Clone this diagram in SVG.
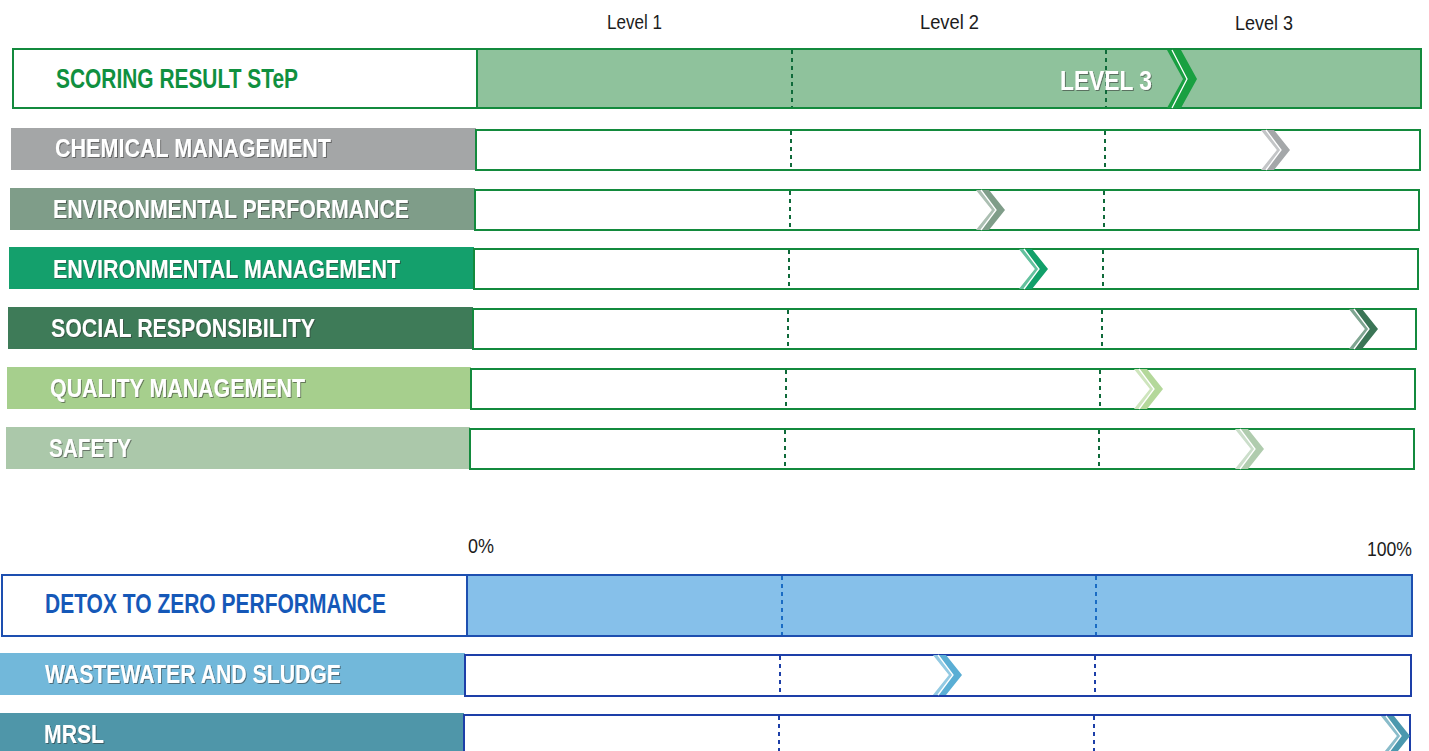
<svg xmlns="http://www.w3.org/2000/svg" xmlns:xlink="http://www.w3.org/1999/xlink" width="1429" height="751" viewBox="0 0 1429 751">
<style>
.t{font-family:"Liberation Sans Narrow","Liberation Sans",Arial,sans-serif;font-weight:bold}
.h{font-family:"Liberation Sans Narrow","Liberation Sans",Arial,sans-serif;font-size:20px;fill:#1c1c1c}
.w{fill:#fff;font-size:25px;filter:url(#sh)}
.gbox{fill:#fff;stroke:#138a3d;stroke-width:2}
.bbox{fill:#fff;stroke:#1d3fa8;stroke-width:2}
.gd{stroke:#0f6a3a;stroke-width:2;stroke-dasharray:4 4;fill:none}
.bd{stroke:#1d3fa8;stroke-width:2;stroke-dasharray:4 4;fill:none}
.bd2{stroke:#1a6cc4;stroke-width:2;stroke-dasharray:4 4;fill:none}
</style>
<defs>
<filter id="sh" x="-5%" y="-30%" width="110%" height="160%">
<feDropShadow dx="1" dy="1" stdDeviation="0.6" flood-color="#333" flood-opacity="0.55"/>
</filter>
<g id="chev">
<path d="M-29,-20 L-16,-20 L0,0 L-16,20 L-29,20 L-13,0 Z"/>
<path d="M-29,-20 L-24,-20 L-9,0 L-24,20 L-29,20 L-13,0 Z" fill="#fff" fill-opacity="0.35"/>
<path d="M-24,-20 L-9,0 L-24,20" fill="none" stroke="#fff" stroke-width="1.3"/>
</g>
</defs>

<g id="headers">
<text class="h" x="607" y="29" textLength="55" lengthAdjust="spacingAndGlyphs">Level 1</text>
<text class="h" x="920" y="29" textLength="59" lengthAdjust="spacingAndGlyphs">Level 2</text>
<text class="h" x="1235" y="30" textLength="58" lengthAdjust="spacingAndGlyphs">Level 3</text>
<text class="h" x="468" y="553" textLength="26" lengthAdjust="spacingAndGlyphs">0%</text>
<text class="h" x="1367" y="556" textLength="45" lengthAdjust="spacingAndGlyphs">100%</text>
</g>

<g id="scoring">
<rect x="477" y="49" width="944" height="59" fill="#8fc29c"/>
<rect x="13" y="49" width="1408" height="59" fill="none" stroke="#138a3d" stroke-width="2"/>
<line x1="477" y1="49" x2="477" y2="108" stroke="#138a3d" stroke-width="2"/>
<line class="gd" x1="792" y1="50" x2="792" y2="107"/>
<line class="gd" x1="1106" y1="50" x2="1106" y2="107"/>
<text class="t" x="56" y="88" font-size="27" fill="#10903f" textLength="242" lengthAdjust="spacingAndGlyphs">SCORING RESULT STeP</text>
<text class="t w" x="1060" y="90" textLength="92" lengthAdjust="spacingAndGlyphs" style="font-size:27px">LEVEL 3</text>
<g transform="translate(1197,79)">
<path d="M-30,-29 L-16,-29 L0,0 L-16,29 L-30,29 L-14,0 Z" fill="#19a041"/>
<path d="M-25,-29 L-10,0 L-25,29" fill="none" stroke="#fff" stroke-width="1.3"/>
</g>
</g>

<g id="chemical">
<rect x="11" y="128" width="465" height="42" fill="#a4a6a7"/>
<rect class="gbox" x="476" y="130" width="944" height="40"/>
<line class="gd" x1="791" y1="131" x2="791" y2="169"/>
<line class="gd" x1="1105" y1="131" x2="1105" y2="169"/>
<text class="t w" x="55" y="157" textLength="276" lengthAdjust="spacingAndGlyphs">CHEMICAL MANAGEMENT</text>
<use xlink:href="#chev" href="#chev" transform="translate(1290,150)" fill="#a4a7a9"/>
</g>

<g id="envperf">
<rect x="10" y="188" width="465" height="42" fill="#7f9d89"/>
<rect class="gbox" x="475" y="190" width="944" height="40"/>
<line class="gd" x1="790" y1="191" x2="790" y2="229"/>
<line class="gd" x1="1104" y1="191" x2="1104" y2="229"/>
<text class="t w" x="53" y="218" textLength="356" lengthAdjust="spacingAndGlyphs">ENVIRONMENTAL PERFORMANCE</text>
<use xlink:href="#chev" href="#chev" transform="translate(1005,210)" fill="#7f9d89"/>
</g>

<g id="envmgmt">
<rect x="9" y="247" width="465" height="42" fill="#14a06c"/>
<rect class="gbox" x="474" y="249" width="944" height="40"/>
<line class="gd" x1="789" y1="250" x2="789" y2="288"/>
<line class="gd" x1="1103" y1="250" x2="1103" y2="288"/>
<text class="t w" x="53" y="278" textLength="347" lengthAdjust="spacingAndGlyphs">ENVIRONMENTAL MANAGEMENT</text>
<use xlink:href="#chev" href="#chev" transform="translate(1048,269)" fill="#12a06a"/>
</g>

<g id="social">
<rect x="8" y="307" width="465" height="42" fill="#3e7b58"/>
<rect class="gbox" x="473" y="309" width="943" height="40"/>
<line class="gd" x1="788" y1="310" x2="788" y2="348"/>
<line class="gd" x1="1102" y1="310" x2="1102" y2="348"/>
<text class="t w" x="51" y="337" textLength="264" lengthAdjust="spacingAndGlyphs">SOCIAL RESPONSIBILITY</text>
<use xlink:href="#chev" href="#chev" transform="translate(1378,329)" fill="#3b7556"/>
</g>

<g id="quality">
<rect x="7" y="367" width="464" height="42" fill="#a6cf8d"/>
<rect class="gbox" x="471" y="369" width="944" height="40"/>
<line class="gd" x1="786" y1="370" x2="786" y2="408"/>
<line class="gd" x1="1100" y1="370" x2="1100" y2="408"/>
<text class="t w" x="50" y="397" textLength="255" lengthAdjust="spacingAndGlyphs">QUALITY MANAGEMENT</text>
<use xlink:href="#chev" href="#chev" transform="translate(1163,389)" fill="#b4d89a"/>
</g>

<g id="safety">
<rect x="6" y="427" width="464" height="42" fill="#abc8aa"/>
<rect class="gbox" x="470" y="429" width="944" height="40"/>
<line class="gd" x1="785" y1="430" x2="785" y2="468"/>
<line class="gd" x1="1099" y1="430" x2="1099" y2="468"/>
<text class="t w" x="49" y="457" textLength="82" lengthAdjust="spacingAndGlyphs">SAFETY</text>
<use xlink:href="#chev" href="#chev" transform="translate(1264,449)" fill="#b0ccae"/>
</g>

<g id="detox">
<rect x="467" y="575" width="945" height="61" fill="#86c0ea"/>
<rect x="2" y="575" width="1410" height="61" fill="none" stroke="#1d4fb0" stroke-width="2"/>
<line x1="467" y1="575" x2="467" y2="636" stroke="#1d4fb0" stroke-width="2"/>
<line class="bd2" x1="782" y1="576" x2="782" y2="635"/>
<line class="bd2" x1="1096" y1="576" x2="1096" y2="635"/>
<text class="t" x="45" y="613" font-size="27" fill="#1558b8" textLength="341" lengthAdjust="spacingAndGlyphs">DETOX TO ZERO PERFORMANCE</text>
</g>

<g id="wastewater">
<rect x="0" y="653" width="465" height="42" fill="#72b8da"/>
<rect class="bbox" x="465" y="655" width="946" height="41"/>
<line class="bd" x1="780" y1="656" x2="780" y2="695"/>
<line class="bd" x1="1095" y1="656" x2="1095" y2="695"/>
<text class="t w" x="45" y="683" textLength="296" lengthAdjust="spacingAndGlyphs">WASTEWATER AND SLUDGE</text>
<use xlink:href="#chev" href="#chev" transform="translate(962,675)" fill="#5aaed4"/>
</g>

<g id="mrsl">
<rect x="0" y="713" width="464" height="45" fill="#4f96a9"/>
<rect class="bbox" x="464" y="715" width="946" height="45"/>
<line class="bd" x1="779" y1="716" x2="779" y2="751"/>
<line class="bd" x1="1094" y1="716" x2="1094" y2="751"/>
<text class="t w" x="44" y="743" textLength="60" lengthAdjust="spacingAndGlyphs">MRSL</text>
<use xlink:href="#chev" href="#chev" transform="translate(1410,736)" fill="#4b98ae"/>
</g>

<g id="connectors"></g>
</svg>
